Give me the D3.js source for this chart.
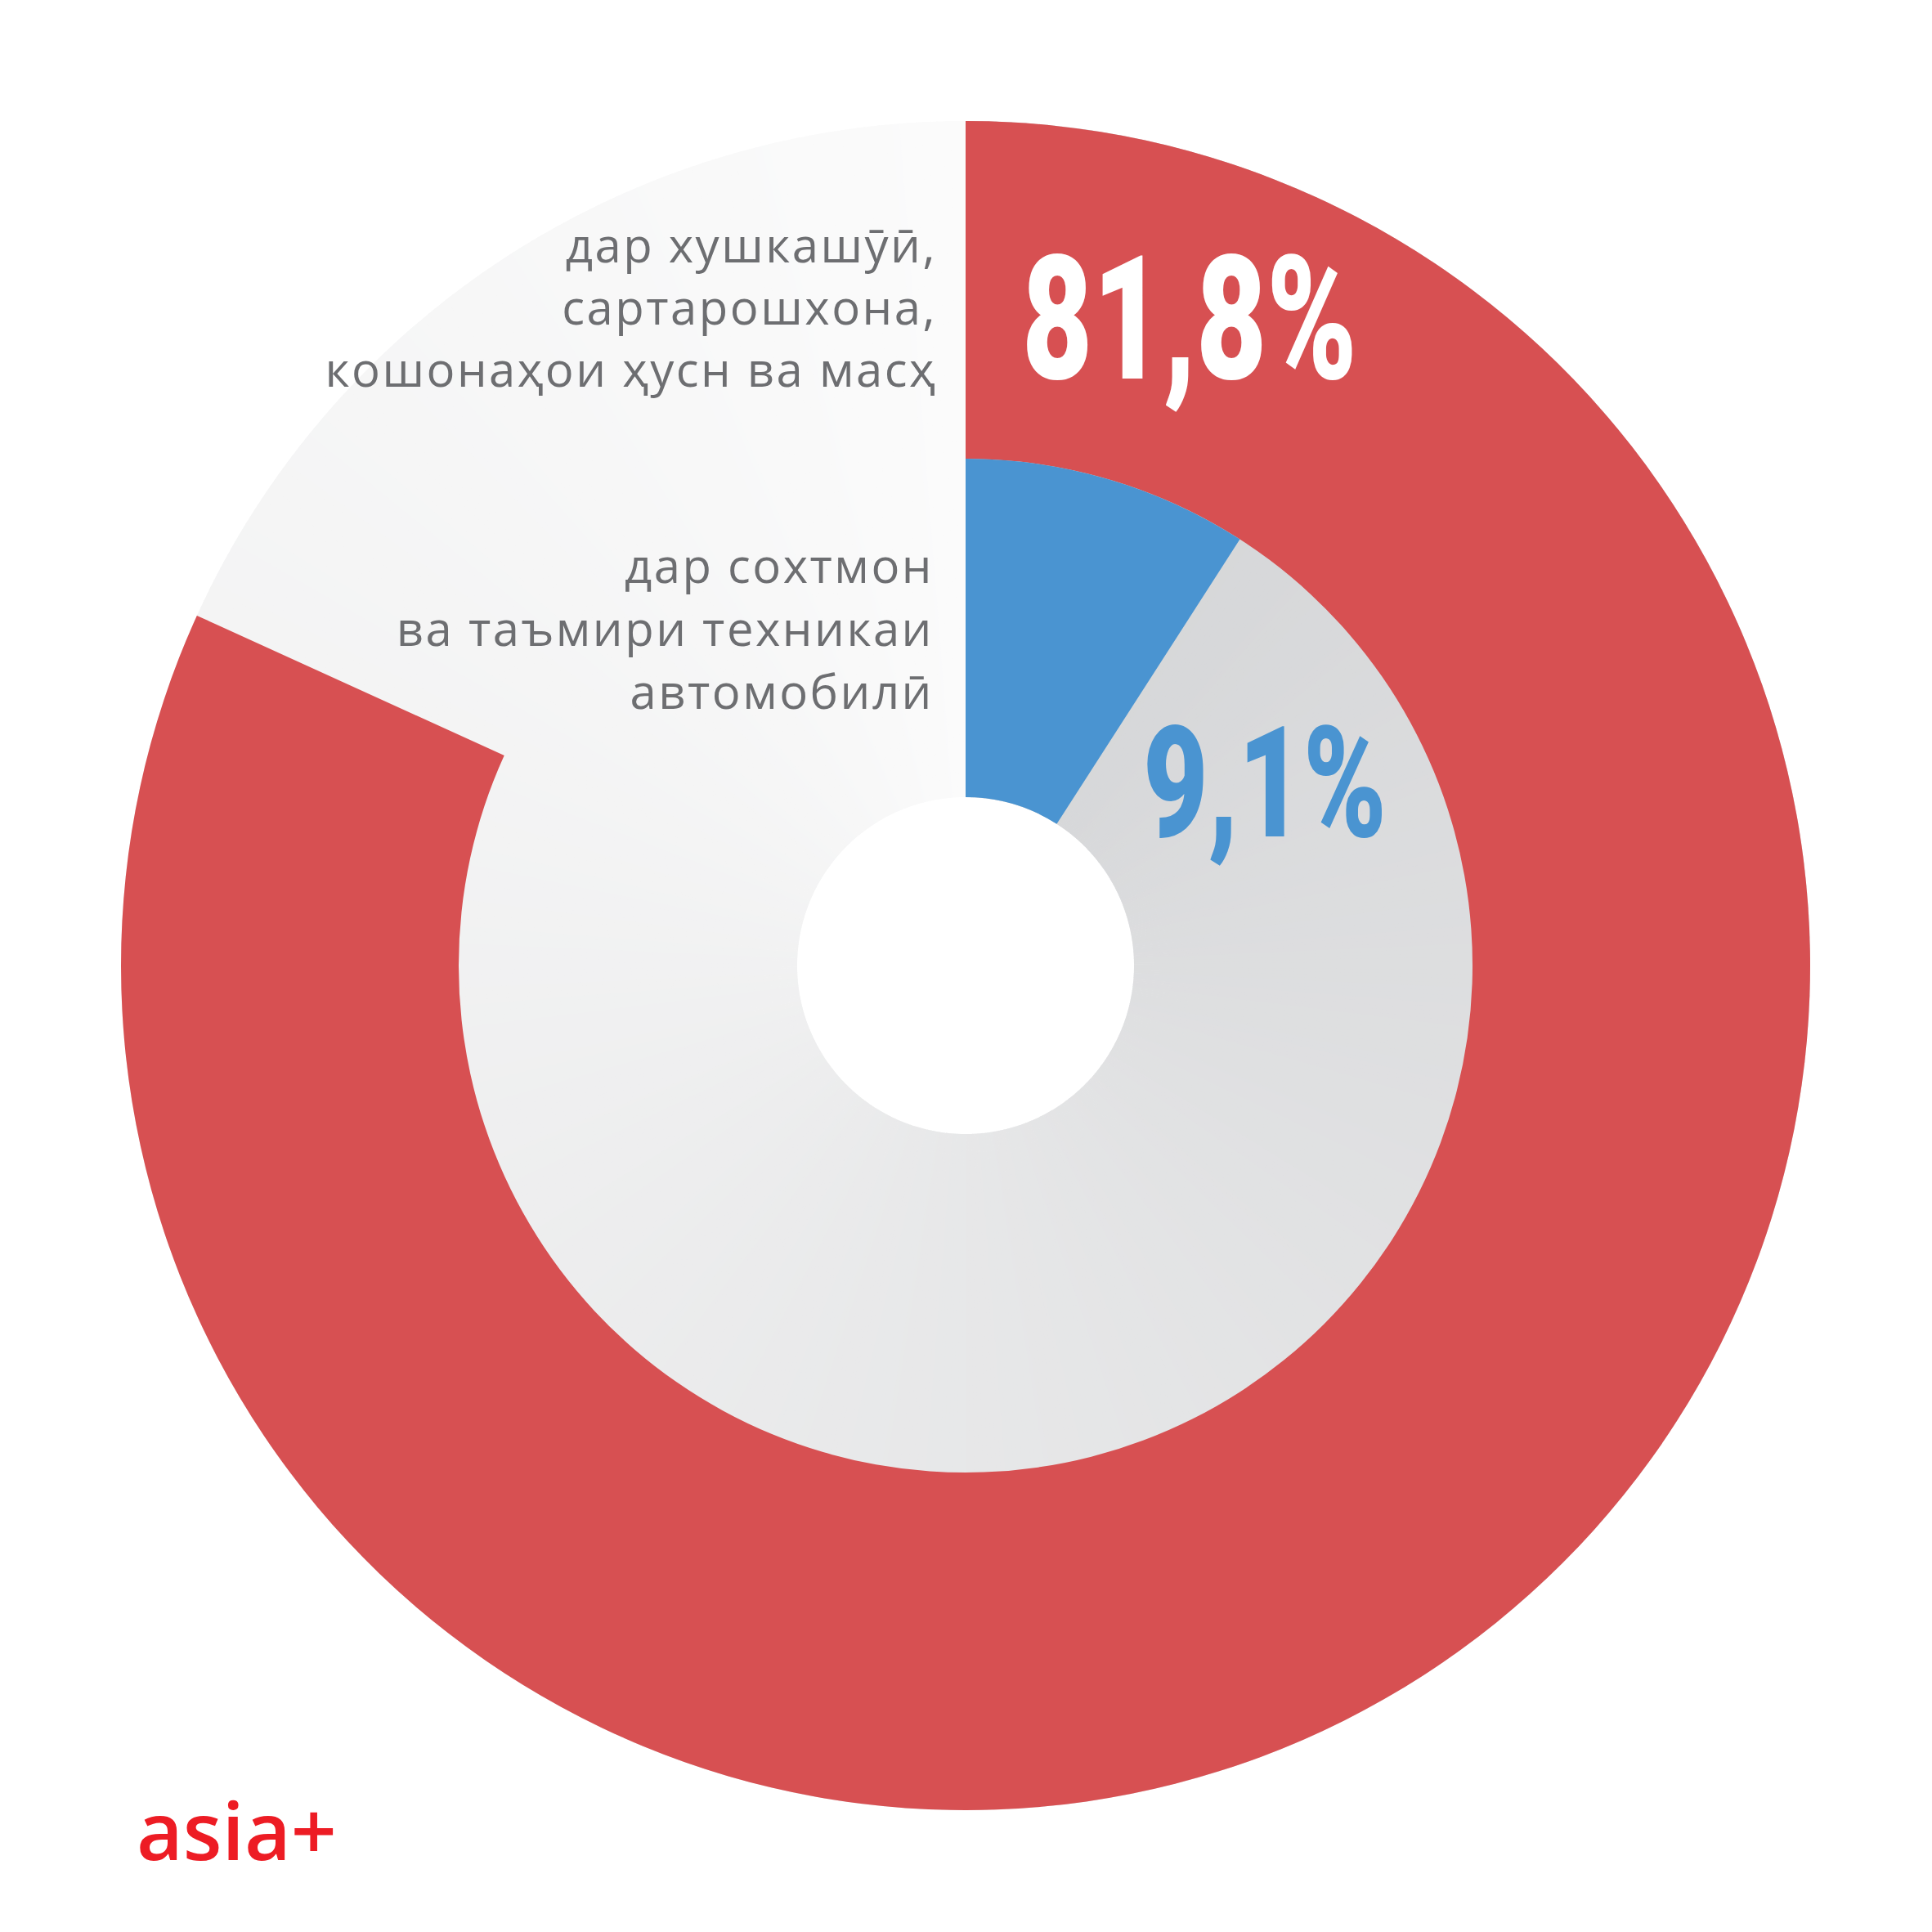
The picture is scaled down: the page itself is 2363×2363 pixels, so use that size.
<!DOCTYPE html>
<meta charset="utf-8">
<style>
    body {
        margin: 0;
        background: #ffffff;
    }
    .label {
        font-family: "Open Sans", sans-serif;
        font-size: 58px;
        letter-spacing: 2.5px;
        fill: #6d6e71;
    }
    .big {
        font-family: Roboto, sans-serif;
        font-weight: 900;
    }
    .logo {
        font-family: "Open Sans", sans-serif;
        font-weight: 600;
        font-size: 98px;
        fill: #ed1c24;
    }
</style>
<body>
<script src="https://d3js.org/d3.v7.min.js"></script>
<script>

    // Outer ring: share of respondents (red), rest stays as background
    var outerNames  = ["дар хушкашӯӣ, сартарошхона, кошонаҳои ҳусн ва масҳ", "дигар"];
    var outerValues = [81.8, 18.2];
    // Inner ring: blue segment
    var innerNames  = ["дар сохтмон ва таъмири техникаи автомобилӣ", "дигар"];
    var innerValues = [9.1, 90.9];

    var outerLabel = ["дар хушкашӯӣ,", "сартарошхона,", "кошонаҳои ҳусн ва масҳ"];
    var innerLabel = ["дар сохтмон", "ва таъмири техникаи", "автомобилӣ"];
    var valueText  = ["81,8%", "9,1%"];

    var width = 2363, height = 2363;
    var cx = 1181, cy = 1181;
    var rOuter = 1033, rMid = 620, rHole = 206;

    var svg = d3.select("body").append("svg")
        .attr("width", width).attr("height", height);

    var g = svg.append("g").attr("transform", "translate(" + cx + "," + cy + ")");

    // angular (conic) gray background, darker at 12 o'clock, lighter going clockwise
    var bgColor = d3.scaleLinear()
        .domain([0, 2 * Math.PI])
        .range(["#d3d4d6", "#fbfbfb"])
        .interpolate(d3.interpolateRgb);

    var steps = 720;
    var stepAngle = 2 * Math.PI / steps;
    var bgArc = d3.arc().innerRadius(rHole).outerRadius(rOuter);

    g.append("g").attr("class", "bg")
        .selectAll("path")
        .data(d3.range(steps))
        .enter().append("path")
        .attr("d", function(i) {
            return bgArc({ startAngle: i * stepAngle, endAngle: (i + 1) * stepAngle + 0.003 });
        })
        .attr("fill", function(i) { return bgColor((i + 0.5) * stepAngle); });

    var pie = d3.pie().sort(null).value(function(d) { return d; });

    var outerArc = d3.arc().innerRadius(rMid).outerRadius(rOuter);
    var innerArc = d3.arc().innerRadius(rHole).outerRadius(rMid);

    var outerColor = d3.scaleOrdinal().domain(outerNames).range(["#d75052", "none"]);
    var innerColor = d3.scaleOrdinal().domain(innerNames).range(["#4a94d1", "none"]);

    g.append("g").attr("class", "outer")
        .selectAll("path")
        .data(pie(outerValues))
        .enter().append("path")
        .attr("d", outerArc)
        .attr("fill", function(d, i) { return outerColor(outerNames[i]); });

    g.append("g").attr("class", "inner")
        .selectAll("path")
        .data(pie(innerValues))
        .enter().append("path")
        .attr("d", innerArc)
        .attr("fill", function(d, i) { return innerColor(innerNames[i]); });

    // percentage figures
    svg.append("text")
        .attr("class", "big")
        .attr("x", 1250).attr("y", 463)
        .attr("font-size", 211)
        .attr("textLength", 410)
        .attr("lengthAdjust", "spacingAndGlyphs")
        .attr("fill", "#ffffff")
        .text(valueText[0]);

    svg.append("text")
        .attr("class", "big")
        .attr("x", 1398).attr("y", 1023)
        .attr("font-size", 190)
        .attr("textLength", 298)
        .attr("lengthAdjust", "spacingAndGlyphs")
        .attr("fill", "#4a94d1")
        .text(valueText[1]);

    // category labels
    svg.append("text")
        .attr("class", "label")
        .attr("text-anchor", "end")
        .selectAll("tspan")
        .data(outerLabel)
        .enter().append("tspan")
        .attr("x", 1146)
        .attr("y", function(d, i) { return 321 + i * 76; })
        .text(function(d) { return d; });

    svg.append("text")
        .attr("class", "label")
        .attr("text-anchor", "end")
        .selectAll("tspan")
        .data(innerLabel)
        .enter().append("tspan")
        .attr("x", 1142)
        .attr("y", function(d, i) { return 713 + i * 77; })
        .text(function(d) { return d; });

    // logo
    svg.append("text")
        .attr("class", "logo")
        .attr("x", 167).attr("y", 2275)
        .text("asia+");

</script>
</body>
